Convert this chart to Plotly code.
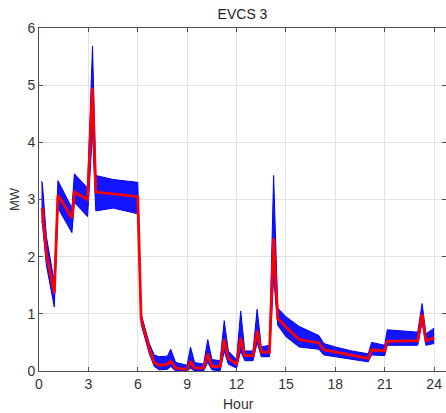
import plotly.graph_objects as go

hours = [0.15, 0.2, 0.45, 0.7, 0.93, 1.15, 2.0, 2.15, 2.95, 3.25, 3.45, 4.5, 6.0, 6.2, 6.4, 6.7,
         7.0, 7.3, 7.8, 8.0, 8.3, 9.0, 9.2, 9.45, 10.0, 10.25, 10.5, 11.0, 11.25, 11.5, 12.0,
         12.25, 12.5, 13.0, 13.25, 13.5, 14.0, 14.25, 14.5, 15.0, 15.8, 17.0, 17.3, 18.0, 19.0,
         20.0, 20.2, 21.0, 21.15, 23.0, 23.27, 23.5, 24.0]
mean_mw = [2.85, 2.83, 2.05, 1.7, 1.36, 3.08, 2.68, 3.13, 3.0, 4.95, 3.13, 3.1, 3.05, 0.92, 0.72, 0.38,
           0.15, 0.1, 0.12, 0.17, 0.05, 0.03, 0.17, 0.05, 0.05, 0.3, 0.08, 0.08, 0.55, 0.22, 0.12,
           0.58, 0.27, 0.27, 0.71, 0.33, 0.33, 2.32, 0.92, 0.77, 0.55, 0.49, 0.37, 0.33, 0.27,
           0.22, 0.37, 0.35, 0.52, 0.53, 1.0, 0.53, 0.58]
upper_mw = [3.32, 3.3, 2.35, 1.9, 1.55, 3.33, 2.85, 3.45, 3.2, 5.68, 3.42, 3.35, 3.3, 1.0, 0.8, 0.48,
            0.28, 0.25, 0.26, 0.38, 0.15, 0.1, 0.42, 0.15, 0.12, 0.55, 0.2, 0.18, 0.88, 0.35, 0.2,
            1.05, 0.35, 0.35, 1.08, 0.42, 0.45, 3.42, 1.1, 0.95, 0.78, 0.62, 0.48, 0.42, 0.35,
            0.3, 0.5, 0.45, 0.72, 0.68, 1.18, 0.65, 0.75]
lower_mw = [2.6, 2.6, 1.85, 1.5, 1.12, 2.85, 2.42, 2.95, 2.7, 4.2, 2.8, 2.85, 2.75, 0.82, 0.62, 0.3,
            0.08, 0.02, 0.03, 0.08, 0.0, 0.0, 0.05, 0.0, 0.0, 0.15, 0.02, 0.0, 0.35, 0.12, 0.05,
            0.35, 0.18, 0.18, 0.5, 0.25, 0.25, 1.65, 0.8, 0.6, 0.42, 0.38, 0.28, 0.25, 0.2,
            0.16, 0.28, 0.27, 0.45, 0.45, 0.85, 0.45, 0.48]

x_ticks = [0, 3, 6, 9, 12, 15, 18, 21, 24]
y_ticks = [0, 1, 2, 3, 4, 5, 6]

fig = go.Figure()
fig.add_trace(go.Scatter(x=hours, y=lower_mw, mode="lines",
                         line=dict(color="rgb(0,0,255)", width=1), showlegend=False,
                         hoverinfo="skip"))
fig.add_trace(go.Scatter(x=hours, y=upper_mw, mode="lines", fill="tonexty",
                         fillcolor="rgba(0,0,255,0.92)",
                         line=dict(color="rgb(0,0,255)", width=1), showlegend=False,
                         hoverinfo="skip"))
fig.add_trace(go.Scatter(x=hours, y=mean_mw, mode="lines",
                         line=dict(color="rgb(255,0,0)", width=2.8), showlegend=False))

FONT = "Arial, Liberation Sans, sans-serif"
axis_common = dict(showline=True, linecolor="#4d4d4d", linewidth=1, mirror="allticks",
                   ticks="inside", ticklen=4, tickcolor="#4d4d4d", automargin=False,
                   showgrid=True, gridcolor="#e3e3e3", gridwidth=1, zeroline=False,
                   tickfont=dict(family=FONT, size=14, color="#333333"))

fig.update_layout(
    width=446, height=413,
    margin=dict(l=39, r=0, t=28, b=42),
    paper_bgcolor="white", plot_bgcolor="white",
    title=dict(text="EVCS 3", x=0.5, xanchor="center", xref="paper", y=0.966, yanchor="middle",
               font=dict(family=FONT, size=14, color="#222222")),
    xaxis=dict(range=[0, 24.72], tickvals=x_ticks, ticktext=[str(v) for v in x_ticks],
               **axis_common),
    yaxis=dict(range=[0, 6], tickvals=y_ticks, ticktext=[str(v) for v in y_ticks],
               title=dict(text="MW", standoff=4,
                          font=dict(family=FONT, size=13, color="#333333")),
               **axis_common),
    annotations=[dict(text="Hour", xref="paper", yref="paper", x=0.49, y=0, yshift=-33,
                      xanchor="center", yanchor="middle", showarrow=False,
                      font=dict(family=FONT, size=14, color="#333333"))],
)

fig.write_html("out.html", config={"displayModeBar": False},
               post_script="document.body.style.margin='0';")
